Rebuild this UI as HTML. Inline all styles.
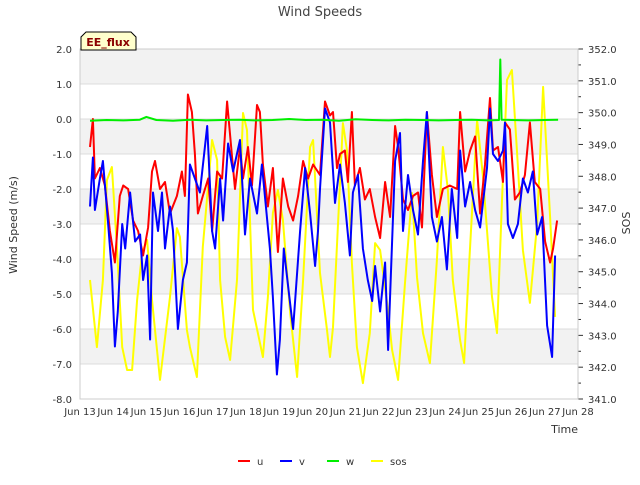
<!DOCTYPE html>
<html><head><meta charset="utf-8"><style>
body{margin:0;background:#fff;font-family:"Liberation Sans","DejaVu Sans",sans-serif}
svg text{font-family:"DejaVu Sans","Liberation Sans",sans-serif}
</style></head><body>
<svg id="chart" width="640" height="480" xmlns="http://www.w3.org/2000/svg">
<rect x="0" y="0" width="640" height="480" fill="#fff"/>
<g id="bands"></g>
<g id="grid"></g>
<g id="series"></g>
<g id="axes"></g>
<text x="320" y="16" text-anchor="middle" font-size="13" fill="#444">Wind Speeds</text>
<text transform="translate(17,225) rotate(-90)" text-anchor="middle" font-size="11" fill="#333">Wind Speed (m/s)</text>
<text transform="translate(630,223) rotate(-90)" text-anchor="middle" font-size="11" fill="#333">SOS</text>
<text x="578" y="433" text-anchor="end" font-size="11" fill="#333">Time</text>
<g>
<polygon points="86,32 131,32 136,37 136,50 81,50 81,37" fill="#ffffcc" stroke="#000" stroke-width="1"/>
<text x="108" y="46" text-anchor="middle" font-size="11" font-weight="bold" fill="#8b0000">EE_flux</text>
</g>
<g id="legend"></g>
</svg>
<script>
const xTickLabels=["Jun 13","Jun 14","Jun 15","Jun 16","Jun 17","Jun 18","Jun 19","Jun 20","Jun 21","Jun 22","Jun 23","Jun 24","Jun 25","Jun 26","Jun 27","Jun 28"];
const yTicks=[2,1,0,-1,-2,-3,-4,-5,-6,-7,-8];
const y2Ticks=[352,351,350,349,348,347,346,345,344,343,342,341];
const uTime=[0.30,0.39,0.45,0.60,0.75,0.90,1.05,1.20,1.30,1.45,1.60,1.75,1.90,2.05,2.17,2.26,2.41,2.56,2.71,2.92,3.07,3.16,3.25,3.37,3.46,3.55,3.70,3.86,3.98,4.13,4.28,4.43,4.58,4.67,4.82,4.91,5.06,5.18,5.33,5.42,5.51,5.66,5.81,5.96,6.11,6.27,6.42,6.57,6.72,6.87,7.02,7.23,7.38,7.53,7.62,7.74,7.83,7.98,8.07,8.19,8.28,8.43,8.58,8.73,8.89,9.04,9.19,9.34,9.49,9.58,9.73,9.88,10.03,10.18,10.30,10.45,10.60,10.75,10.93,11.14,11.36,11.45,11.60,11.75,11.90,12.05,12.20,12.35,12.44,12.59,12.74,12.80,12.95,13.10,13.25,13.40,13.55,13.70,13.86,14.01,14.16,14.25,14.37];
const uValues=[-0.8,0.0,-1.7,-1.4,-1.9,-3.2,-4.1,-2.2,-1.9,-2.0,-2.9,-3.2,-3.9,-3.1,-1.5,-1.2,-2.0,-1.8,-2.7,-2.2,-1.5,-2.2,0.7,0.2,-1.0,-2.7,-2.2,-1.7,-3.2,-1.5,-1.7,0.5,-1.1,-2.0,-0.8,-1.7,-0.8,-1.9,0.4,0.2,-1.3,-2.5,-1.4,-3.8,-1.7,-2.5,-2.9,-2.2,-1.2,-1.7,-1.3,-1.6,0.5,0.1,0.2,-1.4,-1.0,-0.9,-1.8,0.2,-1.9,-1.4,-2.3,-2.0,-2.8,-3.4,-1.8,-2.8,-0.2,-0.8,-2.3,-2.6,-2.2,-2.1,-3.1,0.2,-1.6,-2.8,-2.0,-1.9,-2.0,0.2,-1.5,-0.9,-0.5,-2.7,-1.3,0.6,-0.9,-0.8,-1.8,-0.1,-0.3,-2.3,-2.1,-1.6,-0.1,-1.8,-2.0,-3.5,-4.1,-3.7,-2.9];
const vTime=[0.30,0.39,0.45,0.60,0.69,0.84,0.96,1.05,1.14,1.27,1.36,1.51,1.66,1.81,1.90,2.02,2.11,2.20,2.35,2.47,2.56,2.71,2.80,2.95,3.10,3.22,3.31,3.46,3.61,3.83,3.98,4.07,4.22,4.31,4.46,4.61,4.82,4.97,5.12,5.33,5.48,5.72,5.81,5.93,6.02,6.14,6.27,6.42,6.63,6.78,6.93,7.08,7.17,7.23,7.38,7.53,7.68,7.83,7.98,8.13,8.22,8.37,8.52,8.67,8.80,8.89,9.04,9.19,9.28,9.40,9.49,9.64,9.73,9.88,10.03,10.18,10.33,10.45,10.60,10.75,10.90,11.05,11.20,11.36,11.45,11.60,11.75,11.90,12.05,12.26,12.35,12.44,12.59,12.74,12.80,12.89,13.04,13.19,13.34,13.49,13.64,13.77,13.92,14.07,14.22,14.31];
const vValues=[-2.5,-1.1,-2.6,-1.7,-1.2,-2.9,-4.4,-6.5,-5.5,-3.0,-3.7,-2.1,-3.5,-3.3,-4.6,-3.9,-6.3,-2.1,-3.2,-2.1,-3.7,-2.5,-3.2,-6.0,-4.6,-4.1,-1.3,-1.7,-2.1,-0.2,-3.2,-3.7,-1.7,-2.9,-0.7,-1.5,-0.6,-3.3,-1.7,-2.7,-1.3,-3.7,-5.1,-7.3,-6.3,-3.7,-4.8,-6.0,-3.2,-1.4,-2.7,-4.2,-3.2,-2.0,0.3,-0.1,-2.4,-1.3,-2.4,-3.9,-2.1,-1.6,-3.7,-4.6,-5.2,-4.2,-5.5,-4.1,-6.6,-3.5,-1.2,-0.4,-3.2,-1.6,-2.6,-3.3,-1.2,0.2,-2.8,-3.5,-2.8,-4.3,-2.0,-3.4,-0.9,-2.5,-1.8,-2.6,-3.1,-1.4,0.3,-1.0,-1.2,-0.9,-0.1,-3.0,-3.4,-3.0,-1.7,-2.1,-1.5,-3.3,-2.8,-5.9,-6.8,-3.9];
const wTime=[0.3,0.8,1.3,1.8,2.0,2.3,2.8,3.3,3.8,4.3,4.8,5.3,5.8,6.3,6.8,7.3,7.8,8.3,8.8,9.3,9.8,10.3,10.8,11.3,11.8,12.3,12.62,12.66,12.70,13.0,13.5,14.0,14.4];
const wValues=[-0.05,-0.03,-0.04,-0.02,0.06,-0.03,-0.05,-0.02,-0.04,-0.03,-0.02,-0.04,-0.03,0.0,-0.03,-0.02,-0.05,-0.01,-0.03,-0.04,-0.02,-0.03,-0.04,-0.03,-0.02,-0.04,-0.03,1.7,-0.02,-0.03,-0.04,-0.03,-0.02];
const sosTime=[0.30,0.51,0.69,0.81,0.96,1.11,1.27,1.42,1.57,1.72,1.87,2.02,2.17,2.41,2.71,2.92,3.01,3.22,3.31,3.52,3.70,3.98,4.13,4.22,4.37,4.52,4.73,4.91,5.03,5.21,5.51,5.66,5.81,5.96,6.11,6.33,6.54,6.72,6.93,7.02,7.23,7.44,7.53,7.62,7.83,7.92,8.04,8.19,8.34,8.52,8.73,8.89,9.04,9.25,9.40,9.58,9.79,10.00,10.15,10.33,10.54,10.75,10.93,11.08,11.23,11.45,11.57,11.69,11.96,12.14,12.41,12.56,12.71,12.86,13.01,13.16,13.34,13.55,13.77,13.95,14.16,14.31];
const sosValues=[344.74,342.63,344.74,347.88,348.29,345.78,342.63,341.91,341.91,344.11,345.59,346.00,344.11,341.60,344.21,346.37,346.09,343.17,342.63,341.69,345.78,349.14,348.51,344.74,342.95,342.23,344.74,349.99,349.45,343.80,342.32,344.21,346.85,347.57,346.63,343.70,341.69,344.74,348.92,349.14,344.96,343.17,342.32,343.26,347.79,349.67,348.83,345.27,342.63,341.50,343.07,345.90,345.68,344.02,342.54,341.60,344.65,347.47,344.83,343.07,342.13,345.37,348.92,347.57,344.74,342.85,342.13,344.65,349.77,347.98,344.21,343.07,347.25,351.03,351.34,348.83,345.68,344.02,346.53,350.81,346.72,343.58];

const L=80,R=578,T=49,B=399;
function xS(d){return L+(d)*(R-L)/15;}
function yS(v){return T+(2-v)*(B-T)/10;}
function y2S(v){return T+(352-v)*(B-T)/11;}
const NS="http://www.w3.org/2000/svg";
function mk(tag,attrs,parent){const e=document.createElementNS(NS,tag);for(const k in attrs)e.setAttribute(k,attrs[k]);parent.appendChild(e);return e;}
const bands=document.getElementById('bands'),grid=document.getElementById('grid'),axes=document.getElementById('axes'),series=document.getElementById('series'),legend=document.getElementById('legend');
for(let i=0;i<yTicks.length-1;i++){
  if(i%2===0){const r=mk('rect',{x:L,y:yS(yTicks[i]),width:R-L,height:yS(yTicks[i+1])-yS(yTicks[i]),fill:'#f2f2f2'},bands);
  
  }
}
yTicks.forEach(v=>{
  const l=mk('line',{x1:L,x2:R,y1:yS(v),y2:yS(v),stroke:'#dcdcdc','stroke-width':1},grid);
  
  
  const t=mk('text',{x:L-8,y:yS(v)+4,'text-anchor':'end','font-size':10,fill:'#333'},axes);
  t.textContent=v.toFixed(1);
  
  
});
y2Ticks.forEach((v,i)=>{
  const t=mk('text',{x:R+10,y:y2S(v)+4,'text-anchor':'start','font-size':10,fill:'#333'},axes);
  t.textContent=v.toFixed(1);
  
  
  const tk=mk('line',{x1:R,x2:R+5,y1:y2S(v),y2:y2S(v),stroke:'#333','stroke-width':1},axes);
  
  
  if(i<y2Ticks.length-1){const mt=mk('line',{x1:R,x2:R+3,y1:y2S(v-0.5),y2:y2S(v-0.5),stroke:'#333','stroke-width':1},axes);
  
  }
});
xTickLabels.forEach((s,i)=>{
  const t=mk('text',{x:xS(i),y:B+16,'text-anchor':'middle','font-size':10,fill:'#333'},axes);
  t.textContent=s;
  
  
});
const fr=mk('rect',{x:L,y:T,width:R-L,height:B-T,fill:'none',stroke:'#ccc','stroke-width':1},axes);


function line(ts,vs,ys,color,name){
  const p=ts.map((t,i)=>xS(t).toFixed(1)+','+ys(vs[i]).toFixed(1)).join(' ');
  const e=mk('polyline',{points:p,fill:'none',stroke:color,'stroke-width':2,'stroke-linejoin':'round'},series);
  
  
}
line(sosTime,sosValues,y2S,'#ffff00','sos-line');
line(uTime,uValues,yS,'#ff0000','u-line');
line(vTime,vValues,yS,'#0000ff','v-line');
line(wTime,wValues,yS,'#00ee00','w-line');
const leg=[['u','#ff0000',238],['v','#0000ff',280],['w','#00ee00',327],['sos','#ffff00',371]];
leg.forEach(([n,c,x])=>{
  const g=mk('g',{},legend);
  
  
  mk('line',{x1:x,x2:x+12,y1:461,y2:461,stroke:c,'stroke-width':2},g);
  const t=mk('text',{x:x+19,y:465,'font-size':10,fill:'#333'},g);
  t.textContent=n;
});
</script>
</body></html>
